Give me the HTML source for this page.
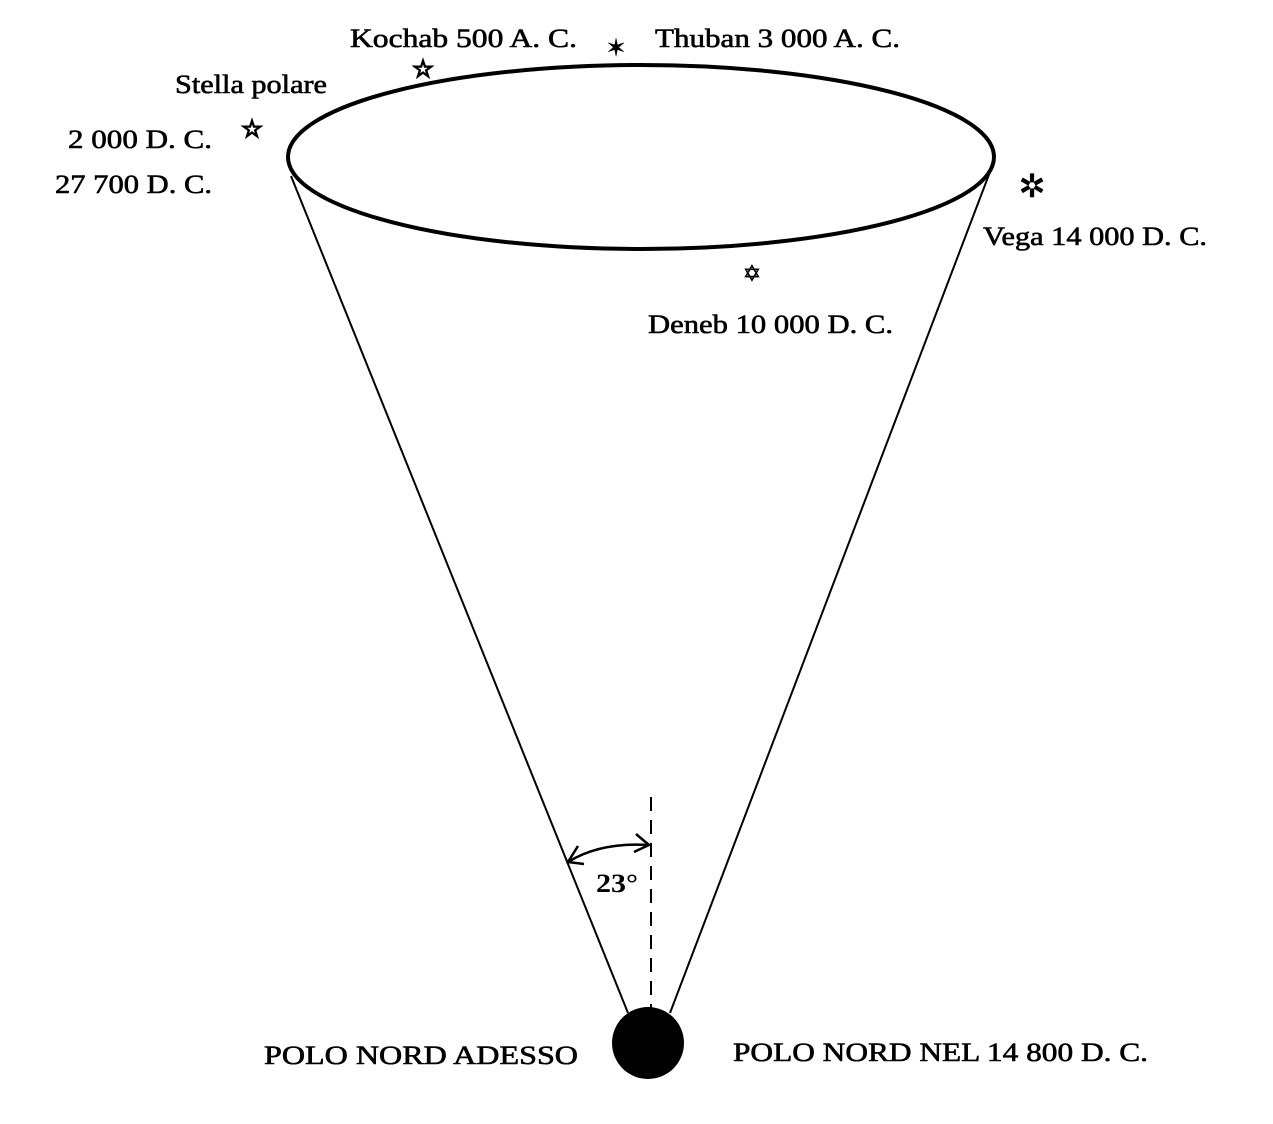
<!DOCTYPE html>
<html><head><style>
html,body{margin:0;padding:0;background:#fff;}
svg{display:block;}
text{font-family:"Liberation Serif",serif;fill:#000;}
</style></head><body>
<svg width="1273" height="1124" viewBox="0 0 1273 1124" xmlns="http://www.w3.org/2000/svg">
<g fill="none" stroke="#000">
<ellipse cx="641" cy="157" rx="353" ry="92" stroke-width="4"/>
<line x1="291" y1="176" x2="628" y2="1013" stroke-width="2"/>
<line x1="993" y1="164" x2="670" y2="1013" stroke-width="2"/>
<line x1="651" y1="797" x2="651" y2="1012" stroke-width="2" stroke-dasharray="14,9"/>
<path d="M568 862 Q600 842 649 845" stroke-width="2.5"/>
<path d="M578 846 L568 862 L584 864" stroke-width="2.5"/>
<path d="M636 834 L649 845 L634 852" stroke-width="2.5"/>
</g>
<circle cx="648" cy="1043" r="36" fill="#000"/>
<g text-anchor="middle" stroke="#000" stroke-width="1.6">
<text x="252" y="137" font-size="24">☆</text>
<text x="423" y="77" font-size="24">☆</text>
<text x="616" y="56" font-size="24" stroke-width="0.5">✶</text>
<text x="1032" y="197" font-size="32" stroke-width="0.5">✲</text>
<text x="752" y="281" font-size="22" stroke-width="0.5">✡</text>
</g>
<g font-size="26" stroke="#000" stroke-width="0.6">
<text x="350" y="47" textLength="227" lengthAdjust="spacingAndGlyphs">Kochab 500 A. C.</text>
<text x="655" y="47" textLength="245" lengthAdjust="spacingAndGlyphs">Thuban 3 000 A. C.</text>
<text x="175" y="93" textLength="152" lengthAdjust="spacingAndGlyphs">Stella polare</text>
<text x="68" y="148" textLength="144" lengthAdjust="spacingAndGlyphs">2 000 D. C.</text>
<text x="55" y="193" textLength="157" lengthAdjust="spacingAndGlyphs">27 700 D. C.</text>
<text x="983" y="245" textLength="224" lengthAdjust="spacingAndGlyphs">Vega 14 000 D. C.</text>
<text x="648" y="333" textLength="245" lengthAdjust="spacingAndGlyphs">Deneb 10 000 D. C.</text>
<text x="264" y="1064" textLength="314" lengthAdjust="spacingAndGlyphs">POLO NORD ADESSO</text>
<text x="733" y="1061" textLength="415" lengthAdjust="spacingAndGlyphs">POLO NORD NEL 14 800 D. C.</text>
</g>
<text x="596" y="892" font-size="26" font-weight="bold" font-family="Liberation Sans,sans-serif" textLength="42" lengthAdjust="spacingAndGlyphs">23°</text>
</svg>
</body></html>
